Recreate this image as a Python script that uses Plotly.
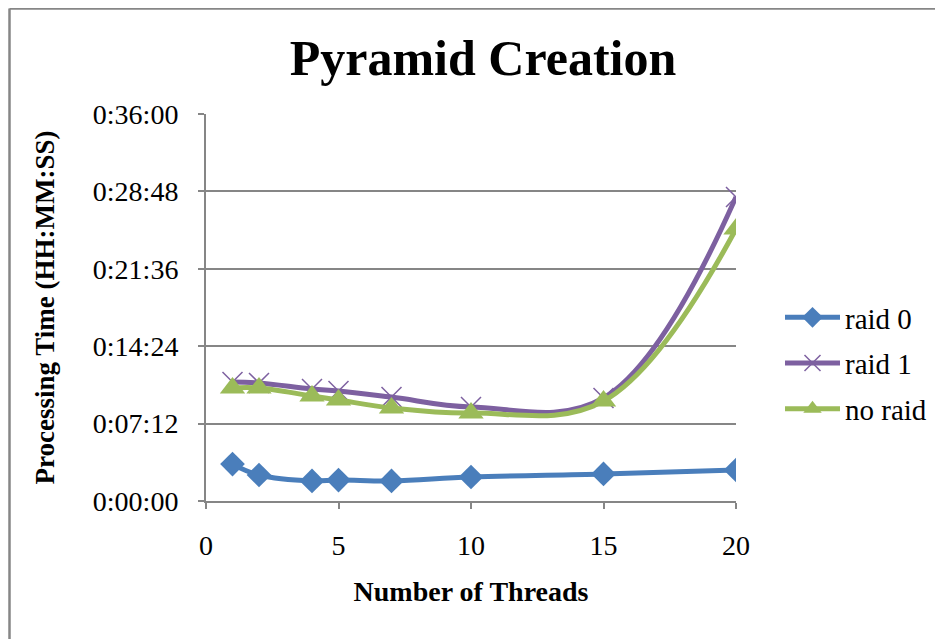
import plotly.graph_objects as go

threads = [1, 2, 4, 5, 7, 10, 15, 20]
# processing time in seconds
raid0 = [206, 145, 112, 117, 112, 134, 151, 173]
raid1 = [664, 659, 625, 614, 580, 525, 575, 1697]
noraid = [631, 631, 586, 564, 519, 491, 558, 1518]

ytick_vals = [0, 432, 864, 1296, 1728, 2160]
ytick_text = ["0:00:00", "0:07:12", "0:14:24", "0:21:36", "0:28:48", "0:36:00"]
xtick_vals = [0, 5, 10, 15, 20]

FONT = "Liberation Serif"
SM = 1.1

fig = go.Figure()
fig.add_trace(go.Scatter(x=threads, y=raid0, name="raid 0", mode="lines+markers", legendgroup="a",
                         line=dict(color="#4A7EBB", width=5, shape="spline", smoothing=SM),
                         marker=dict(symbol="diamond", size=19, color="#4A7EBB")))
fig.add_trace(go.Scatter(x=threads, y=raid1, name="raid 1", mode="lines+markers", legendgroup="b",
                         line=dict(color="#7D60A0", width=5, shape="spline", smoothing=SM),
                         marker=dict(symbol="x-thin", size=20, color="#7D60A0",
                                     line=dict(color="#7D60A0", width=1.5))))
fig.add_trace(go.Scatter(x=threads, y=noraid, name="no raid", mode="lines+markers", legendgroup="c",
                         line=dict(color="#9BBB59", width=5, shape="spline", smoothing=SM),
                         marker=dict(symbol="triangle-up", size=22, color="#9BBB59")))

# page body has an 8px offset; figure coordinates below are screen minus 8
W, H = 935, 631
L, R, T, B = 198, 728, 106, 493
fig.update_layout(
    width=W, height=H,
    margin=dict(l=L, r=W - R, t=T, b=H - B, autoexpand=False),
    paper_bgcolor="white", plot_bgcolor="white",
    font=dict(family=FONT, color="black", size=28),
    title=dict(text="<b>Pyramid Creation</b>", x=475 / W, xanchor="center",
               y=1 - 49 / H, yanchor="middle", font=dict(size=50, family=FONT)),
    showlegend=True,
    legend=dict(x=(772 - L) / (R - L), y=(B - 284) / (B - T), xanchor="left", yanchor="top",
                font=dict(size=29, family=FONT), tracegroupgap=5, itemwidth=55,
                bgcolor="rgba(0,0,0,0)"),
    xaxis=dict(range=[0, 20], tickvals=xtick_vals, showgrid=False, zeroline=False,
               showline=True, linecolor="#868686", linewidth=2,
               ticks="outside", ticklen=6, tickcolor="#868686", tickwidth=2,
               tickfont=dict(size=28, family=FONT), ticklabelstandoff=12,
               title=dict(text="<b>Number of Threads</b>", font=dict(size=28, family=FONT), standoff=22)),
    yaxis=dict(range=[0, 2160], tickvals=ytick_vals, ticktext=ytick_text,
               showgrid=True, gridcolor="#868686", gridwidth=1.5, zeroline=False,
               showline=True, linecolor="#868686", linewidth=2,
               ticks="outside", ticklen=6, tickcolor="#868686", tickwidth=2,
               tickfont=dict(size=28, family=FONT), ticklabelstandoff=14,
               title=dict(text="<b>Processing Time (HH:MM:SS)</b>", font=dict(size=27, family=FONT), standoff=30)),
)

# outer chart border (only left and top edges visible)
bx = (1.5 - L) / (R - L)
by = (B - 0.5) / (B - T)
fig.add_shape(type="line", xref="paper", yref="paper", x0=bx, x1=bx, y0=-1, y1=by,
              line=dict(color="#868686", width=2.5))
fig.add_shape(type="line", xref="paper", yref="paper", x0=bx, x1=3, y0=by, y1=by,
              line=dict(color="#868686", width=2.5))

fig.write_html("out.html")
